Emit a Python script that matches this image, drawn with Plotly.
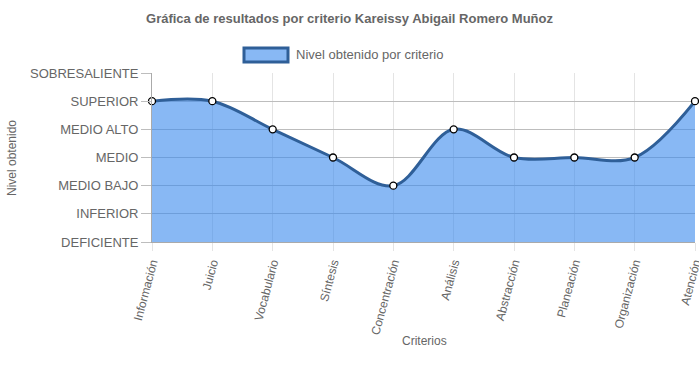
import plotly.graph_objects as go

criterios = ["Información", "Juicio", "Vocabulario", "Síntesis", "Concentración",
             "Análisis", "Abstracción", "Planeación", "Organización", "Atención"]
niveles = ["DEFICIENTE", "INFERIOR", "MEDIO BAJO", "MEDIO", "MEDIO ALTO", "SUPERIOR", "SOBRESALIENTE"]
valores = [5, 5, 4, 3, 2, 4, 3, 3, 3, 5]
serie = "Nivel obtenido por criterio"

line_color = "#2f5f98"
fill_color = "rgba(57,137,237,0.6)"
font = "Liberation Sans, Arial, sans-serif"

W, H = 699, 382
L, R, T, B = 152, 4, 73, 140
pw, ph = W - L - R, H - T - B

x_idx = list(range(len(criterios)))

fig = go.Figure()
fig.add_trace(go.Scatter(
    x=x_idx, y=valores, mode="lines+markers", name=serie,
    line=dict(color=line_color, width=3, shape="spline", smoothing=1.0),
    fill="tozeroy", fillcolor=fill_color,
    marker=dict(size=7, color="white", line=dict(color="black", width=1.3)),
    showlegend=False, cliponaxis=False,
))

fig.update_layout(
    width=W, height=H,
    margin=dict(l=L, r=R, t=T, b=B),
    paper_bgcolor="white", plot_bgcolor="white",
    font=dict(family=font, color="#666"),
    title=dict(text="<b>Gráfica de resultados por criterio Kareissy Abigail Romero Muñoz</b>",
               x=0.5, xref="container", xanchor="center", y=1 - 18 / H, yanchor="middle",
               font=dict(size=13, color="#666", family=font)),
    showlegend=False,
)

fig.update_xaxes(
    range=[0, len(criterios) - 1],
    tickmode="array", tickvals=x_idx, ticktext=criterios,
    tickangle=-75, tickfont=dict(size=12, color="#666"),
    ticklabeloverflow="allow", automargin=False,
    showgrid=True, gridcolor="#e4e4e4", gridwidth=1,
    ticks="outside", ticklen=8, tickcolor="#e4e4e4",
    showline=True, linecolor="#aaa", linewidth=1,
    zeroline=False,
)
fig.update_yaxes(
    range=[0, 6],
    tickmode="array", tickvals=list(range(len(niveles))), ticktext=niveles,
    tickfont=dict(size=13, color="#666"), automargin=False,
    showgrid=True, gridcolor="#bdbdbd", gridwidth=1,
    ticks="outside", ticklen=10, tickcolor="#bdbdbd",
    showline=True, linecolor="#aaa", linewidth=1,
    zeroline=False,
)

# axis titles
fig.add_annotation(text="Criterios", xref="paper", yref="paper",
                   x=(424 - L) / pw, y=(H - B - 341) / ph,
                   xanchor="center", yanchor="middle", showarrow=False,
                   font=dict(size=12, color="#666", family=font))
fig.add_annotation(text="Nivel obtenido", xref="paper", yref="paper",
                   x=(12 - L) / pw, y=(H - B - 158) / ph, textangle=-90,
                   xanchor="center", yanchor="middle", showarrow=False,
                   font=dict(size=12, color="#666", family=font))

# legend drawn manually
fig.add_shape(type="rect", xref="paper", yref="paper",
              x0=(244 - L) / pw, x1=(288 - L) / pw,
              y0=(H - B - 62) / ph, y1=(H - B - 48) / ph,
              fillcolor="#88b8f4", line=dict(color=line_color, width=3))
fig.add_annotation(text=serie, xref="paper", yref="paper",
                   x=(294 - L) / pw, y=(H - B - 54) / ph,
                   xanchor="left", yanchor="middle", showarrow=False,
                   font=dict(size=13, color="#666", family=font))

fig.write_html("out.html", config={"displayModeBar": False},
               post_script="document.body.style.margin='0px';")
